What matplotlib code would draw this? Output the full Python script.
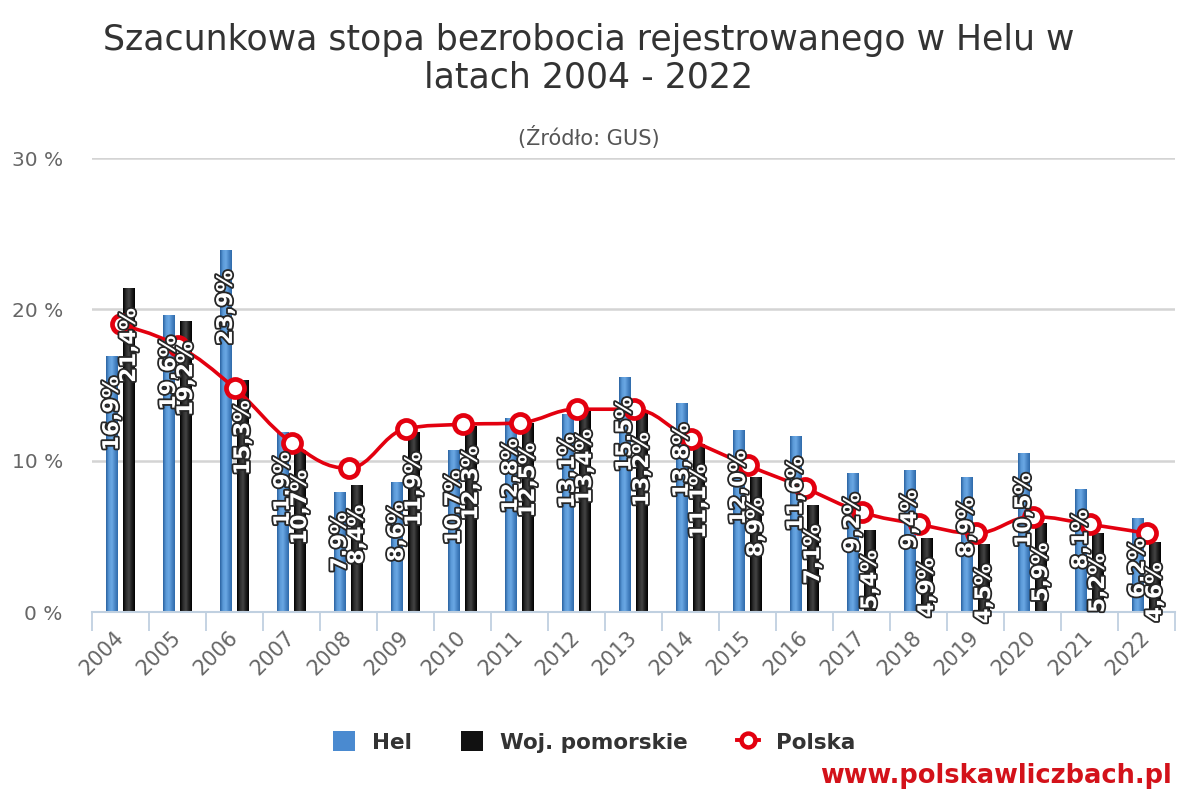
import numpy as np
import matplotlib
matplotlib.use("Agg")
import matplotlib.pyplot as plt
from matplotlib.path import Path
from matplotlib.patches import PathPatch, Patch
from matplotlib.lines import Line2D
import matplotlib.patheffects as pe
from matplotlib.colors import LinearSegmentedColormap

years = [str(y) for y in range(2004, 2023)]
hel = [16.9, 19.6, 23.9, 11.9, 7.9, 8.6, 10.7, 12.8, 13.1, 15.5, 13.8, 12.0, 11.6, 9.2, 9.4, 8.9, 10.5, 8.1, 6.2]
pomorskie = [21.4, 19.2, 15.3, 10.7, 8.4, 11.9, 12.3, 12.5, 13.4, 13.2, 11.1, 8.9, 7.1, 5.4, 4.9, 4.5, 5.9, 5.2, 4.6]
polska = [19.0, 17.6, 14.8, 11.2, 9.5, 12.1, 12.4, 12.5, 13.4, 13.4, 11.4, 9.7, 8.2, 6.6, 5.8, 5.2, 6.3, 5.8, 5.2]
yticks = [0, 10, 20, 30]

W, H = 1177, 797
fig = plt.figure(figsize=(W / 100, H / 100), dpi=100)
ax = fig.add_axes([92 / W, 1 - 612 / H, (1175 - 92) / W, (612 - 158) / H])

x = np.arange(len(years))
bw = 0.21
off = 0.15

blue_cmap = LinearSegmentedColormap.from_list("b", ["#2a62a0", "#5b9ad8", "#6aa8e4", "#4a86c6", "#2e6aaa"])
black_cmap = LinearSegmentedColormap.from_list("k", ["#000000", "#2c2c2c", "#444444", "#1e1e1e", "#000000"])
grad = np.linspace(0, 1, 64).reshape(1, -1)

def grad_bars(xpos, vals, cmap):
    bars = ax.bar(xpos, vals, width=bw, color="none", edgecolor="none", zorder=2)
    for b in bars:
        x0, y0 = b.get_x(), b.get_y()
        im = ax.imshow(grad, cmap=cmap, aspect="auto", zorder=2,
                       extent=(x0, x0 + b.get_width(), y0, y0 + b.get_height()))
        im.set_clip_path(b)
    return bars

grad_bars(x - off, hel, blue_cmap)
grad_bars(x + off, pomorskie, black_cmap)
ax.set_xlim(-0.5, len(years) - 0.5)
ax.set_ylim(0, 30)

# Highcharts-like spline through Polska values
def spline_path(xs, ys, sm=1.5):
    n = len(xs)
    left = [None] * n
    right = [None] * n
    for i in range(n):
        if i == 0 or i == n - 1:
            left[i] = right[i] = (xs[i], ys[i])
            continue
        d = sm + 1
        lx = (sm * xs[i] + xs[i - 1]) / d
        ly = (sm * ys[i] + ys[i - 1]) / d
        rx = (sm * xs[i] + xs[i + 1]) / d
        ry = (sm * ys[i] + ys[i + 1]) / d
        corr = ((ry - ly) * (rx - xs[i])) / (rx - lx) + ys[i] - ry
        ly += corr
        ry += corr
        if ly > max(ys[i - 1], ys[i]):
            ly = max(ys[i - 1], ys[i]); ry = 2 * ys[i] - ly
        elif ly < min(ys[i - 1], ys[i]):
            ly = min(ys[i - 1], ys[i]); ry = 2 * ys[i] - ly
        if ry > max(ys[i + 1], ys[i]):
            ry = max(ys[i + 1], ys[i]); ly = 2 * ys[i] - ry
        elif ry < min(ys[i + 1], ys[i]):
            ry = min(ys[i + 1], ys[i]); ly = 2 * ys[i] - ry
        left[i] = (lx, ly)
        right[i] = (rx, ry)
    verts = [(xs[0], ys[0])]
    codes = [Path.MOVETO]
    for i in range(1, n):
        verts += [right[i - 1], left[i], (xs[i], ys[i])]
        codes += [Path.CURVE4] * 3
    return Path(verts, codes)

red = "#e3000f"
ax.add_patch(PathPatch(spline_path(list(x.astype(float)), polska), facecolor="none",
                       edgecolor=red, lw=2.6, zorder=4, capstyle="round", joinstyle="round"))
ax.plot(x, polska, linestyle="none", marker="o", markersize=13, markerfacecolor="white",
        markeredgecolor=red, markeredgewidth=3.4, zorder=5)

# data labels
lab_fx = [pe.withStroke(linewidth=2.6, foreground="#262626")]
def labels(xpos, vals):
    for xi, v in zip(xpos, vals):
        ax.annotate(f"{v:.1f}%".replace(".", ","), (xi, v), xytext=(0, -20),
                    textcoords="offset pixels", rotation=90, ha="center", va="top",
                    fontsize=15.5, fontweight="bold", color="white", zorder=6,
                    path_effects=lab_fx, annotation_clip=False)
labels(x - off, hel)
labels(x + off, pomorskie)

# axes styling
for s in ["top", "right", "left"]:
    ax.spines[s].set_visible(False)
ax.spines["bottom"].set_color("#c0d0e0")
ax.spines["bottom"].set_linewidth(1.5)
ax.set_yticks(yticks)
ax.set_yticklabels([f"{t} %" for t in yticks])
ax.tick_params(axis="y", length=0, pad=21, labelsize=14.5, labelcolor="#666666")
ax.yaxis.grid(True, color="#d4d4d4", linewidth=1.8)
ax.set_axisbelow(True)

ax.set_xticks(np.arange(-0.5, len(years), 1.0))
ax.set_xticklabels([])
ax.tick_params(axis="x", which="major", length=14, width=1.3, color="#c0d0e0")
ax.set_xticks(x, minor=True)
ax.set_xticklabels(years, minor=True, rotation=45, ha="right", va="center",
                   rotation_mode="anchor")
ax.tick_params(axis="x", which="minor", length=0, pad=16, labelsize=15, labelcolor="#666666")

# titles
fig.text(0.5, 1 - 40 / H, "Szacunkowa stopa bezrobocia rejestrowanego w Helu w",
         ha="center", va="center", fontsize=25, color="#333333")
fig.text(0.5, 1 - 78 / H, "latach 2004 - 2022", ha="center", va="center",
         fontsize=25, color="#333333")
fig.text(0.5, 1 - 137 / H, "(Źródło: GUS)", ha="center", va="center",
         fontsize=15, color="#555555")

# legend
handles = [Patch(facecolor="#4a8ad0", edgecolor="none", label="Hel"),
           Patch(facecolor="#111111", edgecolor="none", label="Woj. pomorskie"),
           Line2D([], [], color=red, lw=2.8, marker="o", markersize=10,
                  markerfacecolor="white", markeredgecolor=red, markeredgewidth=3.2,
                  label="Polska")]
fig.legend(handles=handles, loc="center", bbox_to_anchor=(0.505, 1 - 742 / H), ncol=3,
           frameon=False, prop={"weight": "bold", "size": 15.5}, labelcolor="#333333",
           handlelength=1.0, handleheight=1.0, columnspacing=2.3, handletextpad=0.8)

fig.text(1 - 5 / W, 1 - 776 / H, "www.polskawliczbach.pl", ha="right", va="center",
         fontsize=18.5, fontweight="bold", color="#d3121a")

fig.savefig("out.png", dpi=100)
